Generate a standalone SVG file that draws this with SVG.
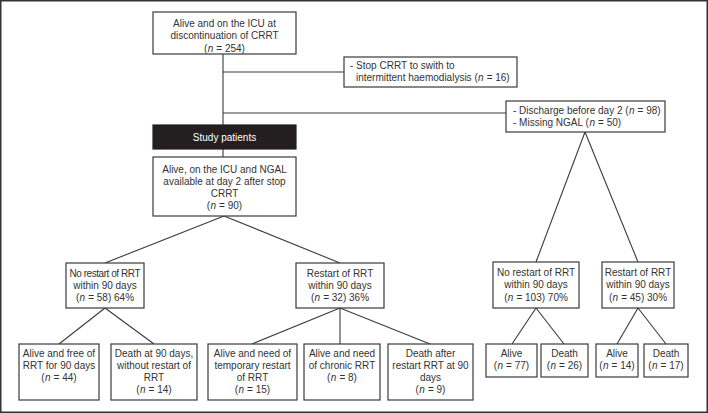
<svg xmlns="http://www.w3.org/2000/svg" width="708" height="413" viewBox="0 0 708 413">
<style>
  .box{fill:#fff;stroke:#3a3a3a;stroke-width:1.2}
  .dark{fill:#231f20;stroke:#231f20;stroke-width:1.2}
  .t{font-family:"Liberation Sans",Arial,sans-serif;font-size:10px;fill:#333}
  .c{text-anchor:middle}
  .w{fill:#fff}
  .i{font-style:italic}
  .conn line{stroke:#3a3a3a;stroke-width:1.1}
</style>
<rect x="0.75" y="0.75" width="706.5" height="411.5" fill="#fff" stroke="#333" stroke-width="1.5"/>
<g class="conn" id="connectors">
  <line x1="223" y1="54" x2="223" y2="125"/>
  <line x1="223" y1="72" x2="344" y2="72"/>
  <line x1="223" y1="113" x2="506" y2="113"/>
  <line x1="223" y1="149" x2="223" y2="157"/>
  <line x1="224" y1="216" x2="105" y2="263"/>
  <line x1="224" y1="216" x2="340" y2="263"/>
  <line x1="105" y1="308" x2="59" y2="344"/>
  <line x1="105" y1="308" x2="154" y2="344"/>
  <line x1="340" y1="308" x2="252" y2="344"/>
  <line x1="340" y1="308" x2="340" y2="344"/>
  <line x1="340" y1="308" x2="430" y2="344"/>
  <line x1="585" y1="132" x2="536" y2="262"/>
  <line x1="585" y1="132" x2="638" y2="262"/>
  <line x1="536" y1="308" x2="512" y2="344"/>
  <line x1="536" y1="308" x2="564" y2="344"/>
  <line x1="638" y1="308" x2="617" y2="344"/>
  <line x1="638" y1="308" x2="666" y2="344"/>
</g>
<g id="n-top">
  <rect class="box" x="153" y="12" width="143" height="42"/>
  <text class="t c" x="224.5" y="27">Alive and on the ICU at</text>
  <text class="t c" x="224.5" y="39.3">discontinuation of CRRT</text>
  <text class="t" x="204.05" y="51.6">(</text><text class="t i" x="207.68" y="51.6">n</text><text class="t" x="216.32" y="51.6">= 254)</text>
</g>
<g id="n-stop">
  <rect class="box" x="344" y="57" width="173" height="30"/>
  <text class="t" x="350" y="68.5">- Stop CRRT to swith to</text>
  <text class="t" x="356" y="80.8">intermittent haemodialysis (</text><text class="t i" x="478" y="80.8">n</text><text class="t" x="486.64" y="80.8">= 16)</text>
</g>
<g id="n-discharge">
  <rect class="box" x="506" y="101" width="159" height="31"/>
  <text class="t" x="513" y="113.5">- Discharge before day 2 (</text><text class="t i" x="628.9" y="113.5">n</text><text class="t" x="637.54" y="113.5">= 98)</text>
  <text class="t" x="513" y="125.8">- Missing NGAL (</text><text class="t i" x="589.42" y="125.8">n</text><text class="t" x="598.06" y="125.8">= 50)</text>
</g>
<g id="n-study">
  <rect class="dark" x="153" y="125" width="143" height="24"/>
  <text class="t c w" x="224.5" y="140.6">Study patients</text>
</g>
<g id="n-alive">
  <rect class="box" x="153" y="157" width="143" height="59"/>
  <text class="t c" x="224.5" y="172.5">Alive, on the ICU and NGAL</text>
  <text class="t c" x="224.5" y="184.8">available at day 2 after stop</text>
  <text class="t c" x="224.5" y="197.1">CRRT</text>
  <text class="t" x="206.83" y="209.4">(</text><text class="t i" x="210.46" y="209.4">n</text><text class="t" x="219.1" y="209.4">= 90)</text>
</g>
<g id="n-norestart58">
  <rect class="box" x="66" y="263" width="78" height="45"/>
  <text class="t c" x="105" y="276.5" textLength="71" lengthAdjust="spacing">No restart of RRT</text>
  <text class="t c" x="105" y="288.8">within 90 days</text>
  <text class="t" x="75.93" y="301.1">(</text><text class="t i" x="79.56" y="301.1">n</text><text class="t" x="88.2" y="301.1">= 58) 64%</text>
</g>
<g id="n-restart32">
  <rect class="box" x="296" y="263" width="88" height="45"/>
  <text class="t c" x="340" y="276.5">Restart of RRT</text>
  <text class="t c" x="340" y="288.8">within 90 days</text>
  <text class="t" x="310.93" y="301.1">(</text><text class="t i" x="314.56" y="301.1">n</text><text class="t" x="323.2" y="301.1">= 32) 36%</text>
</g>
<g id="n-free44">
  <rect class="box" x="19" y="344" width="80" height="56"/>
  <text class="t c" x="59" y="356.5">Alive and free of</text>
  <text class="t c" x="59" y="368.8">RRT for 90 days</text>
  <text class="t" x="41.33" y="381.1">(</text><text class="t i" x="44.96" y="381.1">n</text><text class="t" x="53.6" y="381.1">= 44)</text>
</g>
<g id="n-death14">
  <rect class="box" x="111" y="344" width="86" height="56"/>
  <text class="t c" x="154" y="356.5">Death at 90 days,</text>
  <text class="t c" x="154" y="368.8">without restart of</text>
  <text class="t c" x="154" y="381.1">RRT</text>
  <text class="t" x="136.33" y="393.4">(</text><text class="t i" x="139.96" y="393.4">n</text><text class="t" x="148.6" y="393.4">= 14)</text>
</g>
<g id="n-temp15">
  <rect class="box" x="208" y="344" width="89" height="56"/>
  <text class="t c" x="252.5" y="356.5">Alive and need of</text>
  <text class="t c" x="252.5" y="368.8">temporary restart</text>
  <text class="t c" x="252.5" y="381.1">of RRT</text>
  <text class="t" x="234.83" y="393.4">(</text><text class="t i" x="238.46" y="393.4">n</text><text class="t" x="247.1" y="393.4">= 15)</text>
</g>
<g id="n-chronic8">
  <rect class="box" x="304" y="344" width="76" height="56"/>
  <text class="t c" x="342" y="356.5">Alive and need</text>
  <text class="t c" x="342" y="368.8">of chronic RRT</text>
  <text class="t" x="327.11" y="381.1">(</text><text class="t i" x="330.74" y="381.1">n</text><text class="t" x="339.38" y="381.1">= 8)</text>
</g>
<g id="n-death9">
  <rect class="box" x="388" y="344" width="85" height="56"/>
  <text class="t c" x="430.5" y="356.5">Death after</text>
  <text class="t c" x="430.5" y="368.8">restart RRT at 90</text>
  <text class="t c" x="430.5" y="381.1">days</text>
  <text class="t" x="415.61" y="393.4">(</text><text class="t i" x="419.24" y="393.4">n</text><text class="t" x="427.88" y="393.4">= 9)</text>
</g>
<g id="n-norestart103">
  <rect class="box" x="493" y="262" width="86" height="46"/>
  <text class="t c" x="536" y="276">No restart of RRT</text>
  <text class="t c" x="536" y="288.3">within 90 days</text>
  <text class="t" x="504.15" y="300.6">(</text><text class="t i" x="507.78" y="300.6">n</text><text class="t" x="516.42" y="300.6">= 103) 70%</text>
</g>
<g id="n-restart45">
  <rect class="box" x="602" y="262" width="72" height="46"/>
  <text class="t c" x="638" y="276">Restart of RRT</text>
  <text class="t c" x="638" y="288.3">within 90 days</text>
  <text class="t" x="608.93" y="300.6">(</text><text class="t i" x="612.56" y="300.6">n</text><text class="t" x="621.2" y="300.6">= 45) 30%</text>
</g>
<g id="n-alive77">
  <rect class="box" x="486" y="344" width="51" height="33"/>
  <text class="t c" x="511.5" y="356.5">Alive</text>
  <text class="t" x="493.83" y="368.8">(</text><text class="t i" x="497.46" y="368.8">n</text><text class="t" x="506.1" y="368.8">= 77)</text>
</g>
<g id="n-death26">
  <rect class="box" x="541" y="344" width="47" height="33"/>
  <text class="t c" x="564.5" y="356.5">Death</text>
  <text class="t" x="546.83" y="368.8">(</text><text class="t i" x="550.46" y="368.8">n</text><text class="t" x="559.1" y="368.8">= 26)</text>
</g>
<g id="n-alive14">
  <rect class="box" x="596" y="344" width="42" height="33"/>
  <text class="t c" x="617" y="356.5">Alive</text>
  <text class="t" x="599.33" y="368.8">(</text><text class="t i" x="602.96" y="368.8">n</text><text class="t" x="611.6" y="368.8">= 14)</text>
</g>
<g id="n-death17">
  <rect class="box" x="644" y="344" width="44" height="33"/>
  <text class="t c" x="666" y="356.5">Death</text>
  <text class="t" x="648.33" y="368.8">(</text><text class="t i" x="651.96" y="368.8">n</text><text class="t" x="660.6" y="368.8">= 17)</text>
</g>
</svg>
